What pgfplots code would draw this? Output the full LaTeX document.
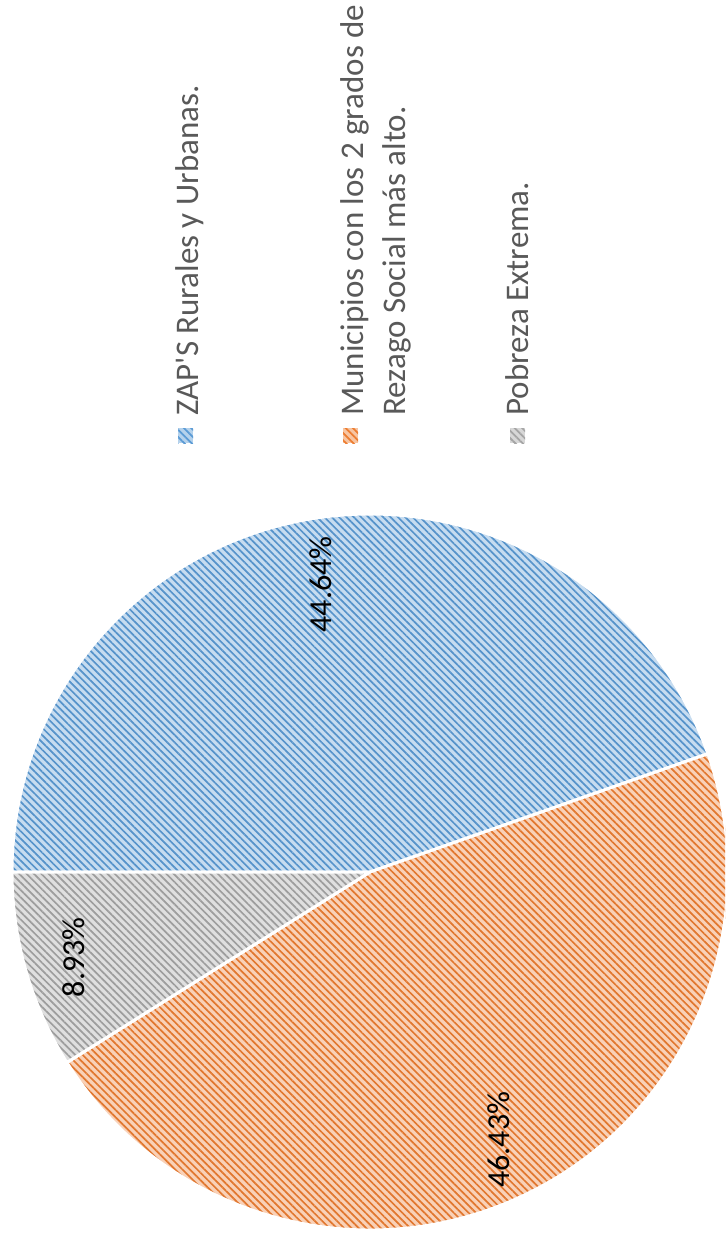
\documentclass[border=0pt]{standalone}
\usepackage{pgfplots}
\pgfplotsset{compat=1.18}
\usepackage{pgfplotstable}
\usepackage{fontspec}
\setmainfont{Carlito}
\usetikzlibrary{patterns.meta}
\definecolor{cBlue}{HTML}{5B9BD5}
\definecolor{cOrange}{HTML}{ED7D31}
\definecolor{cGray}{HTML}{A5A5A5}
\definecolor{txt}{HTML}{595959}
\pgfplotstableread{
key value
ZAP 44.64
Mun 46.43
Pob 8.93
}\piedata
\tikzset{
  slice/.style n args={1}{preaction={fill=#1!35!white},
    pattern={Lines[angle=-45,distance=2.6pt,line width=0.85pt]},
    pattern color=#1!95!black, draw=white, line width=1.5pt},
  swatch/.style n args={1}{preaction={fill=#1!45!white},
    pattern={Lines[angle=-45,distance=2.6pt,line width=0.9pt]},
    pattern color=#1}
}
\begin{document}
\begin{tikzpicture}
\pgfplotstablegetelem{0}{value}\of\piedata \let\vA\pgfplotsretval
\pgfplotstablegetelem{1}{value}\of\piedata \let\vB\pgfplotsretval
\pgfplotstablegetelem{2}{value}\of\piedata \let\vC\pgfplotsretval
\pgfmathsetmacro\aA{180}
\pgfmathsetmacro\aB{\aA-3.6*\vA}
\pgfmathsetmacro\aC{\aB-3.6*\vB}
\pgfmathsetmacro\aD{\aC-3.6*\vC}
\pgfmathsetmacro\mA{(\aA+\aB)/2}
\pgfmathsetmacro\mB{(\aB+\aC)/2}
\pgfmathsetmacro\mC{(\aC+\aD)/2}
\def\R{179pt}
\begin{axis}[width=362.5pt,height=618.5pt,scale only axis,
  xmin=0,xmax=725,ymin=0,ymax=1237,y dir=reverse,hide axis,clip=true]
\addplot[draw=none] coordinates {(0,0) (725,1237)};
% slices
\path[slice={cBlue}] (axis cs:370,872) -- ++(\aA:\R) arc[start angle=\aA,end angle=\aB,radius=\R] -- cycle;
\path[slice={cOrange}] (axis cs:370,872) -- ++(\aB:\R) arc[start angle=\aB,end angle=\aC,radius=\R] -- cycle;
\path[slice={cGray}] (axis cs:370,872) -- ++(\aC:\R) arc[start angle=\aC,end angle=\aD,radius=\R] -- cycle;
% data labels
\path (axis cs:370,872) ++(\mA:0.815*\R) node[rotate=90,font=\fontsize{16}{19}\selectfont,text=black,inner sep=0pt] {\vA\%};
\path (axis cs:370,872) ++(\mB:0.83*\R) node[rotate=90,font=\fontsize{16}{19}\selectfont,text=black,inner sep=0pt] {\vB\%};
\path (axis cs:370,872) ++(\mC:0.86*\R) node[rotate=90,font=\fontsize{16}{19}\selectfont,text=black,inner sep=0pt] {\vC\%};
% legend
\path[swatch={cBlue}] (axis cs:178,428) rectangle (axis cs:193,443);
\path[swatch={cOrange}] (axis cs:343,428) rectangle (axis cs:358,443);
\path[swatch={cGray}] (axis cs:510,428) rectangle (axis cs:525,443);
\node[rotate=90,anchor=base west,inner sep=0pt,text=txt,font=\fontsize{16.5}{20}\selectfont] at (axis cs:198,416) {ZAP\textquotesingle S Rurales y Urbanas.};
\node[rotate=90,anchor=base west,inner sep=0pt,text=txt,font=\fontsize{16.5}{20}\selectfont] at (axis cs:363,416) {Municipios con los 2 grados de};
\node[rotate=90,anchor=base west,inner sep=0pt,text=txt,font=\fontsize{16.5}{20}\selectfont] at (axis cs:405,416) {Rezago Social más alto.};
\node[rotate=90,anchor=base west,inner sep=0pt,text=txt,font=\fontsize{16.5}{20}\selectfont] at (axis cs:528,416) {Pobreza Extrema.};
\end{axis}
\end{tikzpicture}
\end{document}
